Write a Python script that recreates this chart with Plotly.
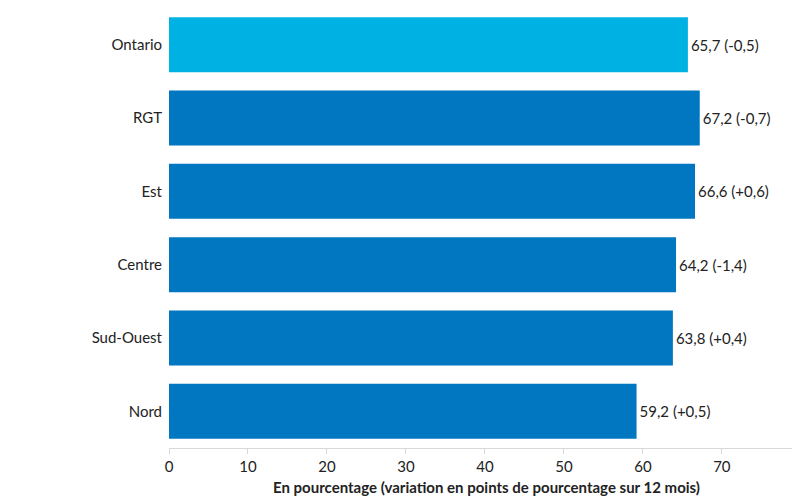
import plotly.graph_objects as go

regions = ["Ontario", "RGT", "Est", "Centre", "Sud-Ouest", "Nord"]
rates = [65.7, 67.2, 66.6, 64.2, 63.8, 59.2]
changes = ["-0,5", "-0,7", "+0,6", "-1,4", "+0,4", "+0,5"]
colors = ["#00B2E3", "#0077C0", "#0077C0", "#0077C0", "#0077C0", "#0077C0"]

labels = [f"{str(r).replace('.', ',')} ({c})" for r, c in zip(rates, changes)]

fig = go.Figure(go.Bar(
    x=rates, y=regions, orientation="h",
    marker=dict(color=colors, line=dict(width=0)),
    text=labels, textposition="outside", cliponaxis=False,
    textfont=dict(size=15, color="#222222"),
))

fig.update_layout(
    width=800, height=500,
    margin=dict(l=161, r=4, t=0, b=60, autoexpand=False),
    plot_bgcolor="white", paper_bgcolor="white",
    font=dict(family="Lato", size=15, color="#222222"),
    bargap=0.25, showlegend=False,
)
fig.update_yaxes(autorange="reversed", ticks="", ticklabelstandoff=6, automargin=False)
fig.update_xaxes(
    range=[0, 80.4], dtick=10, showgrid=False, zeroline=False, automargin=False,
    showline=True, linecolor="#d9d9d9", ticks="outside", tickcolor="#d9d9d9", ticklen=5,
    title=dict(text="<b>En pourcentage (variation en points de pourcentage sur 12 mois)</b>",
               font=dict(size=15), standoff=8),
)

fig.write_html("out.html")
